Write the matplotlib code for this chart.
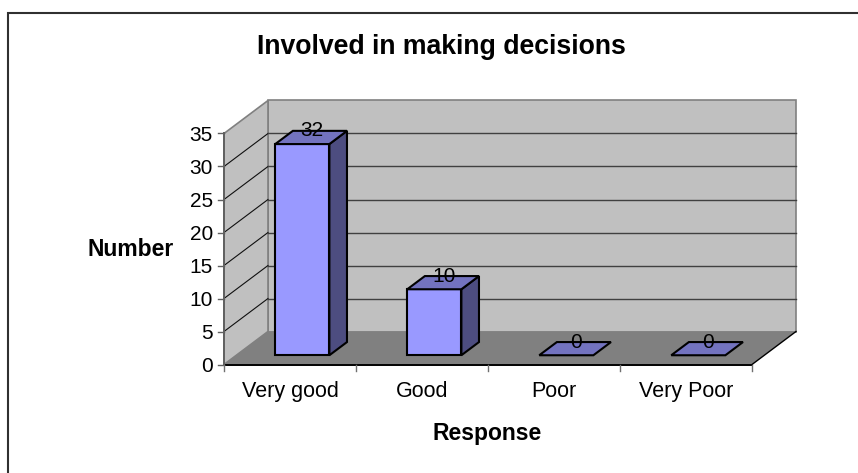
import matplotlib
matplotlib.use('Agg')
import matplotlib.pyplot as plt
from matplotlib.patches import Polygon

plt.rcParams['font.family'] = ['Liberation Sans', 'DejaVu Sans']

title = 'Involved in making decisions'
x_title = 'Response'
y_title = 'Number'
categories = ['Very good', 'Good', 'Poor', 'Very Poor']
values = [32, 10, 0, 0]
y_ticks = [0, 5, 10, 15, 20, 25, 30, 35]

# chart box in pixels
W, H = 858, 473
x0, y0 = 224.0, 364.5
cat_w = 132.0
unit = 6.6
dx, dy = 44.0, 33.0
ymax = 35


def proj(cat, val, depth=0.0):
    return (x0 + cat * cat_w + depth * dx, y0 - val * unit - depth * dy)


def face(ax, pts, fc, ec='none', lw=0, z=1):
    ax.add_patch(Polygon(pts, closed=True, fc=fc, ec=ec, lw=lw, zorder=z, joinstyle='miter'))


fig = plt.figure(figsize=(W / 100, H / 100), dpi=100)
ax = fig.add_axes((0, 0, 1, 1))
ax.set_xlim(0, W)
ax.set_ylim(H, 0)
ax.axis('off')

# outer frame only shows on the top and left
ax.plot([7.5, 7.5, W], [H, 13.5, 13.5], color='#303030', lw=1.5, zorder=0, solid_joinstyle='miter')

n = len(categories)
# walls and floor
face(ax, [proj(0, 0, 1), proj(n, 0, 1), proj(n, ymax, 1), proj(0, ymax, 1)], '#c0c0c0', '#808080', 1.2)
face(ax, [proj(0, 0), proj(0, 0, 1), proj(0, ymax, 1), proj(0, ymax)], '#c0c0c0', '#808080', 1.2)
face(ax, [proj(0, 0), proj(n, 0), proj(n, 0, 1), proj(0, 0, 1)], '#808080')

# gridlines
for t in y_ticks[1:-1]:
    xs, ys = zip(proj(0, t), proj(0, t, 1))
    ax.plot(xs, ys, color='#101010', lw=0.8, zorder=2)
    xs, ys = zip(proj(0, t, 1), proj(n, t, 1))
    ax.plot(xs, ys, color='#404040', lw=1.0, zorder=2)
xs, ys = zip(proj(n, 0), proj(n, 0, 1))
ax.plot(xs, ys, color='black', lw=1.0, zorder=2)

# axes lines and ticks
xs, ys = zip(proj(0, 0), proj(n, 0))
ax.plot(xs, ys, color='black', lw=1.4, zorder=3)
xs, ys = zip(proj(0, 0), proj(0, ymax))
ax.plot(xs, ys, color='#606060', lw=1.4, zorder=3)
for t in y_ticks:
    px, py = proj(0, t)
    ax.plot([px - 6, px], [py, py], color='#606060', lw=1.0, zorder=3)
    ax.text(px - 11, py, str(t), ha='right', va='center_baseline', fontsize=15, color='black')
for i in range(n + 1):
    px, py = proj(i, 0)
    ax.plot([px, px], [py, py + 6], color='#707070', lw=1.0, zorder=3)

# bars
d1, d2 = 0.28, 0.68
gap = 0.295
for i, (name, v) in enumerate(zip(categories, values)):
    l, r = i + gap, i + 1 - gap
    if v > 0:
        face(ax, [proj(r, 0, d1), proj(r, 0, d2), proj(r, v, d2), proj(r, v, d1)], '#4d4d80', 'black', 1.5, 4)
        face(ax, [proj(l, 0, d1), proj(r, 0, d1), proj(r, v, d1), proj(l, v, d1)], '#9999ff', 'black', 1.5, 5)
    face(ax, [proj(l, v, d1), proj(r, v, d1), proj(r, v, d2), proj(l, v, d2)], '#7373bf', 'black', 1.5, 5)
    px, py = proj(i + 0.5, v, 0.5)
    ax.text(px, py - 8, str(v), ha='center', va='center_baseline', fontsize=15, color='black', zorder=6)
    px, py = proj(i + 0.5, 0)
    ax.text(px, py + 32.5, name, ha='center', va='baseline', fontsize=15.5, color='black')

ax.text(441.5, 54, title, ha='center', va='baseline', fontsize=19.2, fontweight='bold')
ax.text(131, 256, y_title, ha='center', va='baseline', fontsize=16.5, fontweight='bold')
ax.text(487.5, 440, x_title, ha='center', va='baseline', fontsize=16.5, fontweight='bold')

fig.savefig('out.png', dpi=100)
